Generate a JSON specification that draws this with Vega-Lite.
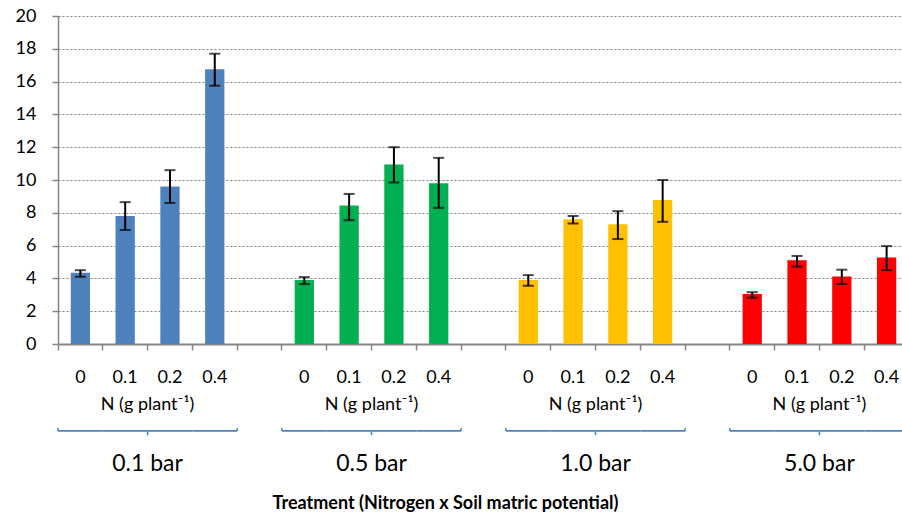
{
  "$schema": "https://vega.github.io/schema/vega-lite/v6.json",
  "autosize": {"type": "none"},
  "width": 844,
  "height": 328,
  "padding": {"left": 58, "top": 16, "right": 0, "bottom": 169},
  "background": "white",
  "config": {"view": {"stroke": null}},
  "datasets": {
    "bars": [
      {"slot": "0.1 bar|0", "group": "0.1 bar", "mean": 4.35, "lo": 4.1, "hi": 4.5},
      {"slot": "0.1 bar|0.1", "group": "0.1 bar", "mean": 7.8, "lo": 6.95, "hi": 8.65},
      {"slot": "0.1 bar|0.2", "group": "0.1 bar", "mean": 9.6, "lo": 8.6, "hi": 10.6},
      {"slot": "0.1 bar|0.4", "group": "0.1 bar", "mean": 16.75, "lo": 15.75, "hi": 17.7},
      {"slot": "0.5 bar|0", "group": "0.5 bar", "mean": 3.9, "lo": 3.65, "hi": 4.08},
      {"slot": "0.5 bar|0.1", "group": "0.5 bar", "mean": 8.45, "lo": 7.55, "hi": 9.15},
      {"slot": "0.5 bar|0.2", "group": "0.5 bar", "mean": 10.95, "lo": 9.85, "hi": 12.0},
      {"slot": "0.5 bar|0.4", "group": "0.5 bar", "mean": 9.8, "lo": 8.3, "hi": 11.35},
      {"slot": "1.0 bar|0", "group": "1.0 bar", "mean": 3.9, "lo": 3.55, "hi": 4.2},
      {"slot": "1.0 bar|0.1", "group": "1.0 bar", "mean": 7.6, "lo": 7.35, "hi": 7.8},
      {"slot": "1.0 bar|0.2", "group": "1.0 bar", "mean": 7.3, "lo": 6.4, "hi": 8.1},
      {"slot": "1.0 bar|0.4", "group": "1.0 bar", "mean": 8.78, "lo": 7.45, "hi": 10.0},
      {"slot": "5.0 bar|0", "group": "5.0 bar", "mean": 3.05, "lo": 2.82, "hi": 3.16},
      {"slot": "5.0 bar|0.1", "group": "5.0 bar", "mean": 5.1, "lo": 4.72, "hi": 5.37},
      {"slot": "5.0 bar|0.2", "group": "5.0 bar", "mean": 4.12, "lo": 3.66, "hi": 4.53},
      {"slot": "5.0 bar|0.4", "group": "5.0 bar", "mean": 5.28, "lo": 4.5, "hi": 5.97}
    ],
    "groups": [
      {"group": "0.1 bar", "start": "0.1 bar|0", "mid": "0.1 bar|0.2", "end": "0.1 bar|0.4"},
      {"group": "0.5 bar", "start": "0.5 bar|0", "mid": "0.5 bar|0.2", "end": "0.5 bar|0.4"},
      {"group": "1.0 bar", "start": "1.0 bar|0", "mid": "1.0 bar|0.2", "end": "1.0 bar|0.4"},
      {"group": "5.0 bar", "start": "5.0 bar|0", "mid": "5.0 bar|0.2", "end": "5.0 bar|0.4"}
    ]
  },
  "layer": [
    {
      "data": {"name": "bars"},
      "mark": {"type": "bar", "width": {"band": 0.43}},
      "encoding": {
        "x": {
          "field": "slot",
          "type": "nominal",
          "scale": {
            "domain": ["0.1 bar|0", "0.1 bar|0.1", "0.1 bar|0.2", "0.1 bar|0.4", "gap1",
                       "0.5 bar|0", "0.5 bar|0.1", "0.5 bar|0.2", "0.5 bar|0.4", "gap2",
                       "1.0 bar|0", "1.0 bar|0.1", "1.0 bar|0.2", "1.0 bar|0.4", "gap3",
                       "5.0 bar|0", "5.0 bar|0.1", "5.0 bar|0.2", "5.0 bar|0.4"],
            "range": [0, 851],
            "paddingInner": 0,
            "paddingOuter": 0
          },
          "axis": {
            "title": "Treatment (Nitrogen x Soil matric potential)",
            "titleFont": "Lato",
            "titleFontWeight": "bold",
            "titleFontSize": 18,
            "titleColor": "black",
            "titleX": 387,
            "titleY": 164,
            "titleAlign": "center",
            "titleBaseline": "alphabetic",
            "labelExpr": "indexof(datum.value, '|') > 0 ? split(datum.value, '|')[1] : ''",
            "labelFont": "Lato",
            "labelFontSize": 18,
            "labelColor": "black",
            "labelPadding": 18,
            "labelAngle": 0,
            "bandPosition": 0,
            "tickSize": 6,
            "tickWidth": 1.5,
            "tickColor": "#868686",
            "domainColor": "#868686",
            "domainWidth": 2,
            "grid": false
          }
        },
        "y": {
          "field": "mean",
          "type": "quantitative",
          "scale": {"domain": [0, 20]},
          "axis": {
            "title": null,
            "tickCount": 10,
            "labelFont": "Lato",
            "labelFontSize": 18,
            "labelColor": "black",
            "labelPadding": 16,
            "tickSize": 6,
            "tickWidth": 1.5,
            "tickColor": "#868686",
            "domainColor": "#868686",
            "domainWidth": 1.5,
            "grid": true,
            "gridDash": [2, 2],
            "gridColor": "#808080",
            "gridWidth": 1.2
          }
        },
        "color": {
          "field": "group",
          "type": "nominal",
          "scale": {"domain": ["0.1 bar", "0.5 bar", "1.0 bar", "5.0 bar"], "range": ["#4F81BD", "#00B050", "#FFC000", "#FF0000"]},
          "legend": null
        }
      }
    },
    {
      "data": {"name": "bars"},
      "mark": {"type": "rule", "color": "black", "strokeWidth": 2},
      "encoding": {
        "x": {"field": "slot", "type": "nominal"},
        "y": {"field": "lo", "type": "quantitative"},
        "y2": {"field": "hi"}
      }
    },
    {
      "data": {"name": "bars"},
      "mark": {"type": "tick", "color": "black", "size": 11, "thickness": 2},
      "encoding": {
        "x": {"field": "slot", "type": "nominal"},
        "y": {"field": "hi", "type": "quantitative"}
      }
    },
    {
      "data": {"name": "bars"},
      "mark": {"type": "tick", "color": "black", "size": 11, "thickness": 2},
      "encoding": {
        "x": {"field": "slot", "type": "nominal"},
        "y": {"field": "lo", "type": "quantitative"}
      }
    },
    {
      "data": {"name": "bars"},
      "mark": {"type": "rect", "color": "#4F81BD"},
      "encoding": {
        "x": {"field": "slot", "type": "nominal"},
        "y": {"datum": -5.25},
        "y2": {"datum": -5.35}
      }
    },
    {
      "data": {"name": "groups"},
      "mark": {"type": "rule", "color": "#4F81BD", "strokeWidth": 1.5},
      "encoding": {
        "x": {"field": "start", "type": "nominal", "bandPosition": 0},
        "y": {"datum": -5.12},
        "y2": {"datum": -5.3}
      }
    },
    {
      "data": {"name": "groups"},
      "mark": {"type": "rule", "color": "#4F81BD", "strokeWidth": 1.5},
      "encoding": {
        "x": {"field": "end", "type": "nominal", "bandPosition": 1},
        "y": {"datum": -5.12},
        "y2": {"datum": -5.3}
      }
    },
    {
      "data": {"name": "groups"},
      "mark": {"type": "rule", "color": "#4F81BD", "strokeWidth": 1.5},
      "encoding": {
        "x": {"field": "mid", "type": "nominal", "bandPosition": 0},
        "y": {"datum": -5.3},
        "y2": {"datum": -5.57}
      }
    },
    {
      "data": {"name": "groups"},
      "mark": {"type": "text", "text": "N (g plant⁻¹)", "font": "Lato", "fontSize": 18, "baseline": "alphabetic", "align": "center", "color": "black"},
      "encoding": {
        "x": {"field": "mid", "type": "nominal", "bandPosition": 0},
        "y": {"datum": -4.02}
      }
    },
    {
      "data": {"name": "groups"},
      "mark": {"type": "text", "font": "Lato", "fontSize": 23, "baseline": "alphabetic", "align": "center", "color": "black"},
      "encoding": {
        "x": {"field": "mid", "type": "nominal", "bandPosition": 0},
        "y": {"datum": -7.74},
        "text": {"field": "group"}
      }
    }
  ]
}
